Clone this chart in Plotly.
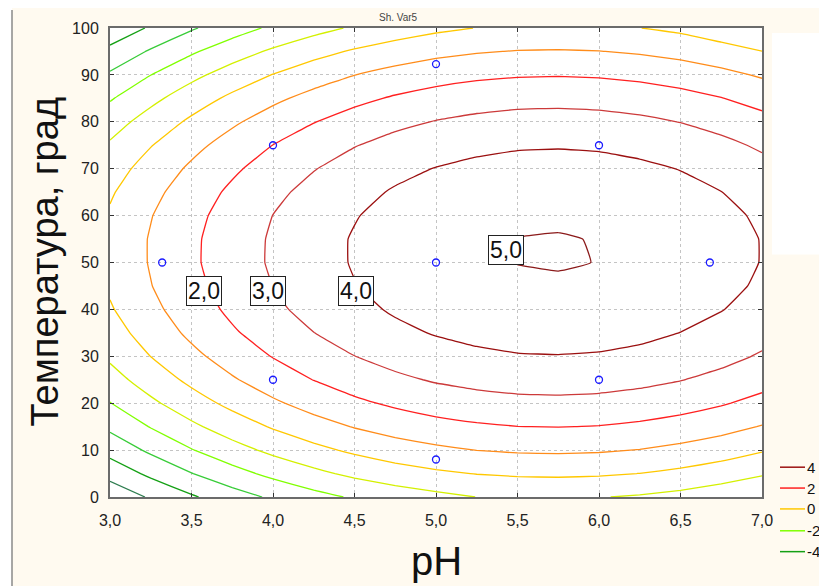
import plotly.graph_objects as go

# ---------------- data ----------------
ph_values = [3.0, 3.25, 3.5, 3.75, 4.0, 4.25, 4.5, 4.75, 5.0, 5.25, 5.5, 5.75, 6.0, 6.25, 6.5, 6.75, 7.0]
temp_values = [0, 5, 10, 15, 20, 25, 30, 35, 40, 45, 50, 55, 60, 65, 70, 75, 80, 85, 90, 95, 100]

# response (Var5) on the pH x temperature grid, one row per temperature
response_grid = [
    [-5.72, -4.88, -4.12, -3.44, -2.84, -2.32, -1.88, -1.53, -1.25, -0.99, -0.94, -0.91, -0.96, -1.10, -1.31, -1.60, -1.98],
    [-4.64, -3.79, -3.03, -2.35, -1.75, -1.23, -0.79, -0.44, -0.16, 0.03, 0.14, 0.17, 0.12, -0.01, -0.22, -0.52, -0.89],
    [-3.66, -2.82, -2.05, -1.37, -0.77, -0.26, 0.18, 0.54, 0.81, 1.01, 1.12, 1.15, 1.10, 0.97, 0.75, 0.46, 0.08],
    [-2.79, -1.95, -1.19, -0.51, 0.09, 0.61, 1.05, 1.41, 1.68, 1.87, 1.99, 2.02, 1.97, 1.83, 1.62, 1.33, 0.95],
    [-2.03, -1.19, -0.43, 0.25, 0.85, 1.37, 1.81, 2.16, 2.44, 2.63, 2.75, 2.78, 2.73, 2.59, 2.38, 2.09, 1.71],
    [-1.38, -0.54, 0.22, 0.90, 1.50, 2.02, 2.46, 2.81, 3.09, 3.28, 3.39, 3.42, 3.37, 3.24, 3.03, 2.74, 2.36],
    [-0.84, 0.01, 0.76, 1.44, 2.04, 2.56, 2.99, 3.35, 3.63, 3.82, 3.94, 3.97, 3.92, 3.78, 3.57, 3.28, 2.90],
    [-0.41, 0.43, 1.20, 1.88, 2.48, 2.99, 3.43, 3.79, 4.06, 4.25, 4.37, 4.40, 4.35, 4.22, 3.99, 3.71, 3.33],
    [-0.09, 0.75, 1.52, 2.20, 2.80, 3.32, 3.75, 4.11, 4.38, 4.58, 4.69, 4.72, 4.67, 4.54, 4.33, 4.03, 3.66],
    [0.13, 0.97, 1.73, 2.41, 3.01, 3.53, 3.97, 4.32, 4.60, 4.79, 4.90, 4.93, 4.88, 4.75, 4.54, 4.24, 3.87],
    [0.23, 1.07, 1.84, 2.52, 3.12, 3.63, 4.07, 4.43, 4.70, 4.90, 5.01, 5.04, 4.99, 4.86, 4.64, 4.35, 3.97],
    [0.23, 1.07, 1.83, 2.51, 3.11, 3.63, 4.07, 4.42, 4.70, 4.89, 5.01, 5.03, 4.98, 4.85, 4.64, 4.34, 3.97],
    [0.11, 0.96, 1.72, 2.40, 3.01, 3.52, 3.95, 4.31, 4.58, 4.78, 4.89, 4.92, 4.87, 4.74, 4.53, 4.23, 3.86],
    [-0.11, 0.73, 1.50, 2.18, 2.78, 3.29, 3.73, 4.09, 4.36, 4.55, 4.67, 4.70, 4.65, 4.52, 4.30, 4.01, 3.63],
    [-0.44, 0.40, 1.16, 1.84, 2.44, 2.96, 3.40, 3.76, 4.03, 4.22, 4.34, 4.37, 4.32, 4.18, 3.97, 3.68, 3.30],
    [-0.88, -0.04, 0.72, 1.40, 2.01, 2.52, 2.96, 3.32, 3.59, 3.78, 3.90, 3.93, 3.88, 3.74, 3.53, 3.24, 2.86],
    [-1.43, -0.59, 0.17, 0.85, 1.45, 1.97, 2.41, 2.77, 3.04, 3.23, 3.35, 3.38, 3.33, 3.19, 2.98, 2.69, 2.31],
    [-2.09, -1.25, -0.48, 0.20, 0.80, 1.31, 1.75, 2.11, 2.38, 2.58, 2.69, 2.72, 2.67, 2.54, 2.32, 2.03, 1.65],
    [-2.86, -2.01, -1.25, -0.57, 0.03, 0.55, 0.99, 1.34, 1.62, 1.81, 1.92, 1.95, 1.90, 1.77, 1.56, 1.26, 0.89],
    [-3.73, -2.89, -2.13, -1.45, -0.85, -0.33, 0.11, 0.46, 0.74, 0.93, 1.04, 1.07, 1.02, 0.89, 0.68, 0.39, 0.01],
    [-4.72, -3.88, -3.11, -2.43, -1.83, -1.32, -0.88, -0.52, -0.20, 0.02, 0.12, 0.15, 0.10, 0.01, -0.20, -0.60, -0.98],
]

contour_levels = [-5, -4, -3, -2, -1, 0, 1, 2, 3, 4, 5]
level_colors = ["#2e7d4f", "#14a014", "#38cc38", "#80ff00", "#d4f000", "#ffc800",
                "#ff8c1a", "#ff2020", "#cc3a3a", "#9b1010", "#8b1a1a"]

design_ph = [3.32, 4.0, 4.0, 5.0, 5.0, 5.0, 6.0, 6.0, 6.68]
design_temp = [50, 75, 25, 92.3, 50, 8, 75, 25, 50]

labelled_levels = [2.0, 3.0, 4.0, 5.0]
legend_levels = [4, 2, 0, -2, -4]

x_ticks = [3.0, 3.5, 4.0, 4.5, 5.0, 5.5, 6.0, 6.5, 7.0]
y_ticks = [0, 10, 20, 30, 40, 50, 60, 70, 80, 90, 100]

# ---------------- figure ----------------
FONT = "Liberation Sans, Arial, sans-serif"
CREAM = "#fffaf0"

n = len(contour_levels) - 1
colorscale = [[i / n, c] for i, c in enumerate(level_colors)]

fig = go.Figure()
fig.add_trace(go.Contour(
    x=ph_values, y=temp_values, z=response_grid,
    colorscale=colorscale, zmin=contour_levels[0], zmax=contour_levels[-1],
    contours=dict(start=contour_levels[0], end=contour_levels[-1], size=1,
                  coloring="lines", showlabels=False),
    line=dict(width=1.3, smoothing=0.3),
    showscale=False, showlegend=False, hoverinfo="skip",
))

fig.add_trace(go.Scatter(
    x=design_ph, y=design_temp, mode="markers",
    marker=dict(symbol="circle-open", size=7, color="#1a1aff", line=dict(width=1.3)),
    showlegend=False, hoverinfo="skip",
))

# the page body adds an 8 px offset; plot area sits at page x 110..762, y 25..497


def px2paper_x(p):
    return (p - 110) / 652


def px2paper_y(p):
    return (497 - p) / 472


# contour value labels (boxed, like the original)
label_pos = {2.0: (3.575, 44), 3.0: (3.97, 44), 4.0: (4.51, 44), 5.0: (5.43, 52.7)}
annotations = []
for lv in labelled_levels:
    px, py = label_pos[lv]
    annotations.append(dict(
        x=px, y=py, xref="x", yref="y", showarrow=False,
        text=f"{lv:.1f}".replace(".", ","),
        font=dict(family=FONT, size=23, color="#111"),
        bgcolor="white", bordercolor="#222", borderwidth=1, borderpad=1,
    ))

# axis titles
annotations.append(dict(
    x=0.5, y=px2paper_y(561), xref="paper", yref="paper", showarrow=False,
    text="pH", font=dict(family=FONT, size=40, color="#111"),
    xanchor="center", yanchor="middle",
))
annotations.append(dict(
    x=px2paper_x(45), y=px2paper_y(260), xref="paper", yref="paper", showarrow=False,
    text="Температура, град", textangle=-90,
    font=dict(family=FONT, size=38, color="#111"),
    xanchor="center", yanchor="middle",
))
# small chart title at the very top
annotations.append(dict(
    x=px2paper_x(398), y=px2paper_y(8), xref="paper", yref="paper", showarrow=False,
    text="Sh. Var5", font=dict(family=FONT, size=10, color="#444"),
    xanchor="center", yanchor="top", borderpad=0,
))

# manual legend (line samples + values) at the lower right
shapes = []
legend_row_px = [467, 488, 509, 531, 552]
for lv, ypx in zip(legend_levels, legend_row_px):
    col = level_colors[contour_levels.index(lv)]
    shapes.append(dict(type="line", xref="paper", yref="paper",
                       x0=px2paper_x(780), x1=px2paper_x(805),
                       y0=px2paper_y(ypx), y1=px2paper_y(ypx),
                       line=dict(color=col, width=1.5)))
    annotations.append(dict(
        x=px2paper_x(806), y=px2paper_y(ypx), xref="paper", yref="paper",
        showarrow=False, text=str(lv), xanchor="left", yanchor="middle",
        font=dict(family=FONT, size=15, color="#111"), borderpad=0,
    ))

shapes += [
    # white strip at left and the grey frame line
    dict(type="rect", xref="paper", yref="paper", layer="below",
         x0=px2paper_x(0), x1=px2paper_x(12), y0=px2paper_y(600), y1=px2paper_y(0),
         fillcolor="white", line=dict(width=0)),
    dict(type="line", xref="paper", yref="paper", layer="below",
         x0=px2paper_x(12), x1=px2paper_x(12), y0=px2paper_y(600), y1=px2paper_y(7),
         line=dict(color="#8a8a8a", width=1.5)),
    dict(type="rect", xref="paper", yref="paper", layer="below",
         x0=px2paper_x(772), x1=px2paper_x(840), y0=px2paper_y(253), y1=px2paper_y(30),
         fillcolor="white", line=dict(width=0)),
]

axis_common = dict(
    showline=True, linecolor="#6b6b6b", linewidth=2, mirror="ticks",
    ticks="inside", ticklen=4, tickwidth=1, tickcolor="#333",
    showgrid=True, gridcolor="#c4c4c4", gridwidth=1, griddash="dot",
    zeroline=False,
    tickfont=dict(family=FONT, size=16, color="#222"),
)

fig.update_layout(
    width=819, height=578, autosize=False,
    margin=dict(l=102, r=65, t=17, b=89),
    paper_bgcolor=CREAM, plot_bgcolor="white",
    separators=", ",
    showlegend=False,
    font=dict(family=FONT, color="#111"),
    xaxis=dict(range=[3.0, 7.0], tickvals=x_ticks, tickformat=".1f",
               ticklabelstandoff=8, **axis_common),
    yaxis=dict(range=[0, 100], tickvals=y_ticks, tickformat="d",
               ticklabelstandoff=6, **axis_common),
    annotations=annotations,
    shapes=shapes,
)

fig.write_html("out.html")
